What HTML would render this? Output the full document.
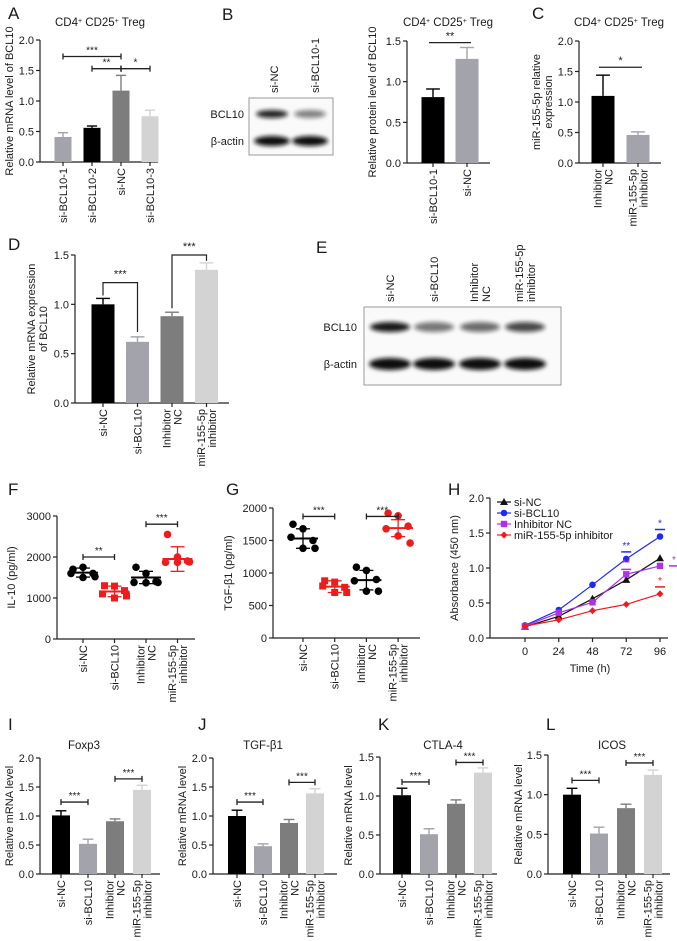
<!DOCTYPE html>
<html><head><meta charset="utf-8">
<style>
body{margin:0;background:#fff;}
svg{display:block;font-family:"Liberation Sans",Arial,sans-serif;}
text{fill:#1a1a1a;}
</style></head>
<body>
<svg id="fig" width="677" height="941" viewBox="0 0 677 941" xmlns="http://www.w3.org/2000/svg"></svg>
<script>
// ---------- data ----------
const aCats=["si-BCL10-1","si-BCL10-2","si-NC","si-BCL10-3"];
const aVals=[0.41,0.56,1.17,0.75];
const aErrs=[0.07,0.03,0.25,0.10];
const bCats=["si-BCL10-1","si-NC"];
const bVals=[0.81,1.28];
const bErrs=[0.10,0.14];
const cCats=[["Inhibitor","NC"],["miR-155-5p","inhibitor"]];
const cVals=[1.10,0.46];
const cErrs=[0.34,0.05];
const grpCats=["si-NC","si-BCL10",["Inhibitor","NC"],["miR-155-5p","inhibitor"]];
const dVals=[1.00,0.62,0.88,1.35];
const dErrs=[0.06,0.05,0.04,0.07];
const fDots=[[1700,1750,1600,1600,1500,1520],[1300,1290,1180,1100,1000,1050],[1750,1600,1400,1380,1370,1380],[2550,2000,1900,1870,1870,1880]];
const fMeans=[1620,1160,1500,1950];
const fSds=[110,130,150,300];
const gDots=[[1750,1680,1500,1550,1380,1380],[880,860,780,800,700,700],[1090,1040,900,880,720,720],[1920,1880,1720,1680,1570,1460]];
const gMeans=[1530,790,890,1690];
const gSds=[150,90,150,130];
const hTimes=[0,24,48,72,96];
const hSiNC=[0.16,0.31,0.56,0.83,1.14];
const hSiBCL=[0.18,0.40,0.76,1.13,1.45];
const hInhNC=[0.17,0.36,0.51,0.91,1.03];
const hMiR=[0.17,0.26,0.39,0.48,0.63];
const iVals=[1.01,0.52,0.91,1.45]; const iErrs=[0.08,0.08,0.04,0.08];
const jVals=[1.00,0.48,0.88,1.39]; const jErrs=[0.10,0.04,0.06,0.08];
const kVals=[1.01,0.51,0.90,1.30]; const kErrs=[0.09,0.07,0.05,0.06];
const lVals=[1.00,0.51,0.83,1.25]; const lErrs=[0.08,0.08,0.05,0.06];

const NS="http://www.w3.org/2000/svg";
const svg=document.getElementById('fig');
function el(tag,attrs,parent){const e=document.createElementNS(NS,tag);for(const k in attrs)e.setAttribute(k,attrs[k]);(parent||svg).appendChild(e);return e;}
function txt(x,y,s,attrs,parent){const t=el('text',Object.assign({x:x,y:y},attrs||{}),parent);t.textContent=s;return t;}
const G1="#000",G2="#a3a3ab",G3="#7d7d7d",G4="#d3d3d3";

function letter(x,y,s){const t=txt(x,y,s,{'font-size':17});

}
function title(x,y,parts){const t=el('text',{x:x,y:y,'font-size':11.5,'text-anchor':'middle'});


parts.forEach(p=>{const s=el('tspan',p[1]?{'font-size':7,'baseline-shift':'super'}:{},t);s.textContent=p[0];});}
function treg(x,y){title(x,y,[["CD4"],["+",1],[" CD25"],["+",1],[" Treg"]]);}

function yAxis(g,ax,by,ty,max,step,dec,ylab,labx){
  el('line',{x1:ax,y1:by,x2:ax,y2:ty,stroke:'#222','stroke-width':1.2},g);
  const sc=v=>by-(v/max)*(by-ty);
  for(let v=0;v<=max+1e-9;v+=step){const y=sc(v);
    el('line',{x1:ax-4,y1:y,x2:ax,y2:y,stroke:'#222','stroke-width':1.2},g);
    txt(ax-6,y+4,v.toFixed(dec),{'font-size':11,'text-anchor':'end'},g);}
  const cy=(by+ty)/2;
  ylab.forEach((s,i)=>{const t=txt(0,0,s,{'font-size':11,'text-anchor':'middle',transform:`translate(${labx+i*12},${cy}) rotate(-90)`},g);
    
    });
  return sc;}
function xLabels(g,cats,xs,by){
  cats.forEach((c,i)=>{const lines=Array.isArray(c)?c:[c];
    lines.forEach((s,k)=>{const off=(k-(lines.length-1)/2)*11;
      const t=txt(0,0,s,{'font-size':11,'text-anchor':'end',dy:'0.35em',transform:`translate(${xs[i]+off},${by+6}) rotate(-90)`},g);
      
      });});}
function bracketCap(g,x1,x2,y,s,col){col=col||'#222';
  el('line',{x1:x1,y1:y,x2:x2,y2:y,stroke:col,'stroke-width':1.3},g);
  el('line',{x1:x1,y1:y-3,x2:x1,y2:y+3,stroke:col,'stroke-width':1.3},g);
  el('line',{x1:x2,y1:y-3,x2:x2,y2:y+3,stroke:col,'stroke-width':1.3},g);
  txt((x1+x2)/2,y-3,s,{'font-size':10,'text-anchor':'middle'},g);}
function bracketPlain(g,x1,x2,y,s){el('line',{x1:x1,y1:y,x2:x2,y2:y,stroke:'#222','stroke-width':1.2},g);
  txt((x1+x2)/2,y-3,s,{'font-size':11,'text-anchor':'middle'},g);}

function barChart(p){
  const g=el('g',{});
  
  
  const sc=yAxis(g,p.ax,p.by,p.ty,p.max,p.step,1,p.ylab,p.labx);
  el('line',{x1:p.ax,y1:p.by,x2:p.xend,y2:p.by,stroke:'#222','stroke-width':1.2},g);
  const xs=p.vals.map((v,i)=>p.first+i*p.gap);
  p.vals.forEach((v,i)=>{const x=xs[i],w=p.w,top=sc(v),et=sc(v+p.errs[i]);
    el('line',{x1:x,y1:top,x2:x,y2:et,stroke:p.colors[i],'stroke-width':1.4},g);
    el('line',{x1:x-w*0.3,y1:et,x2:x+w*0.3,y2:et,stroke:p.colors[i],'stroke-width':1.4},g);
    const r=el('rect',{x:x-w/2,y:top,width:w,height:p.by-top,fill:p.colors[i]},g);
    
    
    el('line',{x1:x,y1:p.by,x2:x,y2:p.by+4,stroke:'#222','stroke-width':1.2},g);});
  xLabels(g,p.cats,xs,p.by);
  (p.caps||[]).forEach(b=>bracketCap(g,xs[b[0]],xs[b[1]],sc(b[2]),b[3]));
  (p.plain||[]).forEach(b=>bracketPlain(g,xs[b[0]]-4,xs[b[1]]+4,sc(b[2]),b[3]));
  (p.legs||[]).forEach(b=>{el('path',{d:`M${xs[b[0]]},${sc(b[1])}V${sc(b[2])}H${xs[b[3]]}V${sc(b[4])}`,fill:'none',stroke:'#222','stroke-width':1.2},g);
    txt((xs[b[0]]+xs[b[3]])/2,sc(b[2])-5,b[5],{'font-size':11,'text-anchor':'middle'},g);});
  return g;}

function blot(x,y,w,h,lanes,bands,name){
  const g=el('g',{});
  
  
  el('rect',{x:x,y:y,width:w,height:h,fill:'#fafafa',stroke:'#999','stroke-width':1},g);
  bands.forEach(b=>{lanes.forEach((lx,i)=>{el('ellipse',{cx:lx,cy:b.y,rx:b.rx,ry:b.ry,fill:'#111',opacity:b.op[i],filter:'url(#blur)'},g);});});
  return g;}
const defs=el('defs',{});
const f=el('filter',{id:'blur',x:'-30%',y:'-100%',width:'160%',height:'300%'},defs);
el('feGaussianBlur',{stdDeviation:'2'},f);

// ---------- A ----------
letter(8,19,"A"); treg(100,26);
barChart({name:'panel-a-chart',ax:40,by:162,ty:40,max:2.0,step:0.5,ylab:["Relative mRNA level of BCL10"],labx:13,xend:158,first:63,gap:29,w:17,
 vals:aVals,errs:aErrs,cats:aCats,colors:[G2,G1,G3,G4],caps:[[0,2,1.73,"***"],[1,2,1.53,"**"],[2,3,1.53,"*"]]});
// ---------- B ----------
letter(222,20,"B");
blot(249,98,84,57,[272,310],[{y:114,rx:16,ry:4,op:[0.9,0.5]},{y:141,rx:18,ry:5,op:[1,1]}],'panel-b-blot');
[["si-NC",274],["si-BCL10-1",315]].forEach(a=>{const t=txt(0,0,a[0],{'font-size':11,'text-anchor':'start',dy:'0.35em',transform:`translate(${a[1]},93) rotate(-90)`});
 
 });
txt(244,118,"BCL10",{'font-size':11,'text-anchor':'end'});
txt(244,145,"β-actin",{'font-size':11,'text-anchor':'end'});
treg(448,26);
barChart({name:'panel-b-chart',ax:407,by:163,ty:41,max:1.5,step:0.5,ylab:["Relative protein level of BCL10"],labx:376,xend:490,first:433,gap:34,w:23,
 vals:bVals,errs:bErrs,cats:bCats,colors:[G1,G2],plain:[[0,1,1.48,"**"]]});
// ---------- C ----------
letter(532,19,"C"); treg(619,26);
barChart({name:'panel-c-chart',ax:579,by:163,ty:41,max:2.0,step:0.5,ylab:["miR-155-5p relative","expression"],labx:540,xend:661,first:603,gap:35,w:23,
 vals:cVals,errs:cErrs,cats:cCats,colors:[G1,G2],plain:[[0,1,1.57,"*"]]});
// ---------- D ----------
letter(8,250,"D");
barChart({name:'panel-d-chart',ax:75,by:403,ty:255,max:1.5,step:0.5,ylab:["Relative mRNA expression","of BCL10"],labx:35,xend:229,first:103,gap:34.5,w:23,
 vals:dVals,errs:dErrs,cats:grpCats,colors:[G1,G2,G3,G4],legs:[[0,1.09,1.22,1,0.72,"***"],[2,0.96,1.5,3,1.44,"***"]]});
// ---------- E ----------
letter(316,253,"E");
blot(364,307,197,78,[390,434,480,525],[{y:327,rx:20,ry:5,op:[0.95,0.55,0.6,0.75]},{y:364,rx:21,ry:6,op:[1,1,1,1]}],'panel-e-blot');
[["si-NC",390],["si-BCL10",434],[["Inhibitor","NC"],480],[["miR-155-5p","inhibitor"],525]].forEach(a=>{const ls=Array.isArray(a[0])?a[0]:[a[0]];
 ls.forEach((s,k)=>{const off=(k-(ls.length-1)/2)*12;const t=txt(0,0,s,{'font-size':11,'text-anchor':'start',dy:'0.35em',transform:`translate(${a[1]+off},302) rotate(-90)`});
 
 });});
txt(357,331,"BCL10",{'font-size':11,'text-anchor':'end'});
txt(357,368,"β-actin",{'font-size':11,'text-anchor':'end'});

// ---------- F & G dot plots ----------
const dotOff=[-10,0,10,-10,0,10];
function dotPlot(p){
  const g=el('g',{});
  
  
  const sc=yAxis(g,p.ax,p.by,p.ty,p.max,p.step,0,p.ylab,p.labx);
  el('line',{x1:p.ax,y1:p.by,x2:p.xend,y2:p.by,stroke:'#222','stroke-width':1.2},g);
  const xs=p.means.map((v,i)=>p.first+i*p.gap);
  p.dots.forEach((arr,i)=>{const col=i%2?'#ee1c1c':'#000',x=xs[i];
    arr.forEach((v,k)=>{const dx=x+dotOff[k]*(k<3?1:1.2);
      const m=(i===1)?el('rect',{x:dx-3.5,y:sc(v)-3.5,width:7,height:7,fill:col},g):el('circle',{cx:dx,cy:sc(v),r:3.8,fill:col},g);
      
      });
    const my=sc(p.means[i]),t=sc(p.means[i]+p.sds[i]),b=sc(p.means[i]-p.sds[i]);
    el('line',{x1:x-15,y1:my,x2:x+15,y2:my,stroke:col,'stroke-width':2},g);
    el('line',{x1:x,y1:t,x2:x,y2:b,stroke:col,'stroke-width':1.3},g);
    el('line',{x1:x-7,y1:t,x2:x+7,y2:t,stroke:col,'stroke-width':1.3},g);
    el('line',{x1:x-7,y1:b,x2:x+7,y2:b,stroke:col,'stroke-width':1.3},g);
    el('line',{x1:x,y1:p.by,x2:x,y2:p.by+4,stroke:'#222','stroke-width':1.2},g);});
  xLabels(g,grpCats,xs,p.by);
  p.caps.forEach(b=>bracketCap(g,xs[b[0]],xs[b[1]],sc(b[2]),b[3]));}
letter(8,495,"F");
dotPlot({name:'panel-f-chart',ax:57,by:639,ty:516,max:3000,step:1000,ylab:["IL-10 (pg/ml)"],labx:15,xend:195,first:83,gap:31.5,
 dots:fDots,means:fMeans,sds:fSds,caps:[[0,1,2000,"**"],[2,3,2800,"***"]]});
letter(226,495,"G");
dotPlot({name:'panel-g-chart',ax:273,by:638,ty:508,max:2000,step:500,ylab:["TGF-β1 (pg/ml)"],labx:232,xend:420,first:303,gap:31.7,
 dots:gDots,means:gMeans,sds:gSds,caps:[[0,1,1870,"***"],[2,3,1870,"***"]]});

// ---------- H ----------
letter(448,495,"H");
(function(){
  const g=el('g',{});
  
  
  const sc=yAxis(g,490,638,498,2.0,0.5,1,["Absorbance (450 nm)"],458);
  el('line',{x1:490,y1:638,x2:668,y2:638,stroke:'#222','stroke-width':1.2},g);
  const xs=t=>525+t/96*135;
  hTimes.forEach(t=>{el('line',{x1:xs(t),y1:638,x2:xs(t),y2:642,stroke:'#222','stroke-width':1.2},g);
    txt(xs(t),655,String(t),{'font-size':11,'text-anchor':'middle'},g);});
  const tt=txt(590,672,"Time (h)",{'font-size':11,'text-anchor':'middle'},g);
  
  
  const series=[[hSiNC,'#111','tri','si-NC'],[hSiBCL,'#1f2bf0','circ','si-BCL10'],[hInhNC,'#b030e8','sq','Inhibitor NC'],[hMiR,'#ee1c1c','dia','miR-155-5p inhibitor']];
  function mark(x,y,type,col){
    if(type==='tri')return el('path',{d:`M${x},${y-4}L${x+4},${y+3}L${x-4},${y+3}Z`,fill:col},g);
    if(type==='circ')return el('circle',{cx:x,cy:y,r:3.3,fill:col},g);
    if(type==='sq')return el('rect',{x:x-3.2,y:y-3.2,width:6.4,height:6.4,fill:col},g);
    return el('path',{d:`M${x},${y-3.5}L${x+3.5},${y}L${x},${y+3.5}L${x-3.5},${y}Z`,fill:col},g);}
  series.forEach((s,si)=>{const d=s[0].map((v,i)=>(i?'L':'M')+xs(hTimes[i])+','+sc(v)).join('');
    const pl=el('path',{d:d,fill:'none',stroke:s[1],'stroke-width':1.2},g);
    
    
    s[0].forEach((v,i)=>{const m=mark(xs(hTimes[i]),sc(v),s[2],s[1]);
      
      });
    const ly=502+si*11;
    el('line',{x1:497,y1:ly,x2:511,y2:ly,stroke:s[1],'stroke-width':1.2},g);
    mark(504,ly,s[2],s[1]);
    const lt=txt(514,ly+4,s[3],{'font-size':11},g);
    
    });
  function star(x,y,s,col){el('line',{x1:x-5,y1:y,x2:x+5,y2:y,stroke:col,'stroke-width':1.5},g);
    txt(x,y-3,s,{'font-size':10,'text-anchor':'middle',fill:col,style:'fill:'+col},g);}
  star(xs(72),sc(1.23),"**",'#1f2bf0');
  star(xs(96),sc(1.55),"*",'#1f2bf0');
  star(xs(72),sc(0.98),"**",'#b030e8');
  star(xs(96)+14,sc(1.03),"*",'#b030e8');
  star(xs(96),sc(0.73),"*",'#ee1c1c');
})();

// ---------- I-L ----------
const cols4=[G1,G2,G3,G4];
letter(8,730,"I"); title(84,749,[["Foxp3"]]);
barChart({name:'panel-i-chart',ax:40,by:874,ty:758,max:2.0,step:0.5,ylab:["Relative mRNA level"],labx:13,xend:160,first:61,gap:27,w:18,
 vals:iVals,errs:iErrs,cats:grpCats,colors:cols4,caps:[[0,1,1.24,"***"],[2,3,1.64,"***"]]});
letter(198,730,"J"); title(263,749,[["TGF-β1"]]);
barChart({name:'panel-j-chart',ax:213,by:874,ty:758,max:2.0,step:0.5,ylab:["Relative mRNA level"],labx:186,xend:337,first:237,gap:26,w:18,
 vals:jVals,errs:jErrs,cats:grpCats,colors:cols4,caps:[[0,1,1.24,"***"],[2,3,1.58,"***"]]});
letter(378,730,"K"); title(443,749,[["CTLA-4"]]);
barChart({name:'panel-k-chart',ax:380,by:874,ty:757,max:1.5,step:0.5,ylab:["Relative mRNA level"],labx:352,xend:497,first:402,gap:27,w:18,
 vals:kVals,errs:kErrs,cats:grpCats,colors:cols4,caps:[[0,1,1.18,"***"],[2,3,1.43,"***"]]});
letter(546,730,"L"); title(612,749,[["ICOS"]]);
barChart({name:'panel-l-chart',ax:548,by:874,ty:755,max:1.5,step:0.5,ylab:["Relative mRNA level"],labx:522,xend:670,first:572,gap:27,w:18,
 vals:lVals,errs:lErrs,cats:grpCats,colors:cols4,caps:[[0,1,1.18,"***"],[2,3,1.40,"***"]]});
</script>
</body></html>
